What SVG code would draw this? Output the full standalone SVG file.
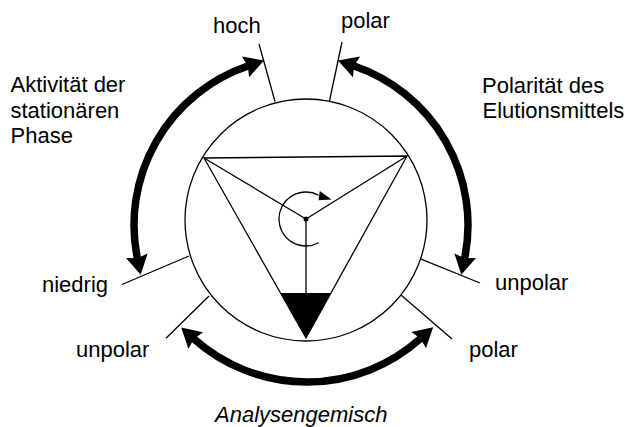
<svg xmlns="http://www.w3.org/2000/svg" width="632" height="427" viewBox="0 0 632 427">
<style>
.thin{fill:none;stroke:#000;stroke-width:1.3}
.thick{fill:none;stroke:#000;stroke-width:7.5;marker-start:url(#ah);marker-end:url(#ah)}
text{font-family:"Liberation Sans",Arial,sans-serif;font-size:22px;fill:#000}
.it{font-style:italic}
</style>
<defs>
<marker id="ah" markerUnits="userSpaceOnUse" markerWidth="40" markerHeight="40" viewBox="-10 -20 40 40" refX="0" refY="0" orient="auto-start-reverse" overflow="visible">
<path d="M17,0 L-2.5,-11 L0,0 L-2.5,11 Z" fill="#000"/>
</marker>
</defs>
<rect width="632" height="427" fill="#fff"/>
<g id="wheel">
<circle class="thin" cx="306" cy="220" r="121"/>
<polygon class="thin" points="204,158 407,156 306,338"/>
<line class="thin" x1="306" y1="219" x2="204" y2="158"/>
<line class="thin" x1="306" y1="219" x2="407" y2="156"/>
<line class="thin" x1="306" y1="219" x2="306" y2="293"/>
<polygon points="280.7,293 331,293 306,338" fill="#000"/>
<circle cx="306" cy="219" r="2.5" fill="#000"/>
<path class="thin" d="M318.7,242.8 A27,27 0 1 1 318.7,195.2"/>
<polygon points="319.8,191 331.5,199.5 318.5,200.3" fill="#000"/>
</g>
<g id="ticks">
<line class="thin" x1="275" y1="101.5" x2="259" y2="44"/>
<line class="thin" x1="329.5" y1="101" x2="342" y2="42"/>
<line class="thin" x1="189" y1="256" x2="122" y2="284.5"/>
<line class="thin" x1="209" y1="296" x2="166" y2="338.3"/>
<line class="thin" x1="420.5" y1="258.8" x2="480" y2="283"/>
<line class="thin" x1="401" y1="295" x2="452" y2="339"/>
</g>
<g id="connectors">
<path class="thick" d="M137.3,258.2 A168,168 0 0 1 247.9,66"/>
<path class="thick" d="M354.1,66 A168,168 0 0 1 464.7,258.2"/>
<path class="thick" d="M193.9,338.9 A170,170 0 0 0 420.5,338.5"/>
</g>
<g id="label-activity">
<text x="10.5" y="92">Aktivität der</text>
<text x="10.5" y="117.5">stationären</text>
<text x="10.5" y="143">Phase</text>
</g>
<g id="label-polarity">
<text x="482" y="92.5">Polarität des</text>
<text x="482.5" y="117.5">Elutionsmittels</text>
</g>
<g id="label-mixture">
<text class="it" x="215" y="422">Analysengemisch</text>
</g>
<g id="tick-labels">
<text x="213" y="32.5">hoch</text>
<text x="341" y="27.5">polar</text>
<text x="42" y="291.5">niedrig</text>
<text x="76" y="356.5">unpolar</text>
<text x="495" y="290">unpolar</text>
<text x="469" y="356.5">polar</text>
</g>
</svg>
